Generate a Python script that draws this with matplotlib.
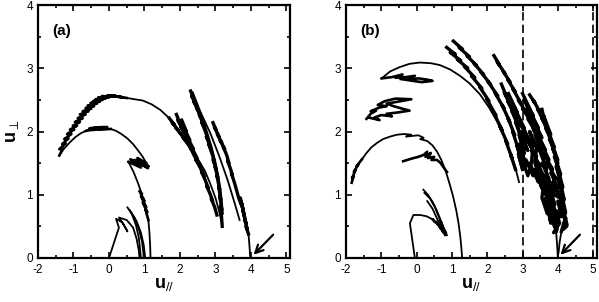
import matplotlib
matplotlib.use('Agg')
import matplotlib.pyplot as plt
from matplotlib.ticker import MultipleLocator

plt.rcParams['font.family'] = ['Liberation Sans', 'DejaVu Sans']
plt.rcParams['mathtext.fontset'] = 'custom'
plt.rcParams['mathtext.rm'] = 'Liberation Sans'
plt.rcParams['mathtext.it'] = 'Liberation Sans:italic'
plt.rcParams['mathtext.bf'] = 'Liberation Sans:bold'
plt.rcParams['axes.unicode_minus'] = False

# ---------------- data: trajectories (u_par, u_perp) ----------------
# Panel (a)
A_TOP_SAW = [(-1.40,1.62),(-1.30,1.73),(-1.40,1.72),(-1.22,1.81),(-1.32,1.80),(-1.14,1.89),(-1.26,1.88),
             (-1.06,1.96),(-1.18,1.96),(-0.98,2.03),(-1.10,2.03),(-0.90,2.09),(-1.02,2.09),(-0.82,2.15),
             (-0.96,2.15),(-0.74,2.21),(-0.88,2.21),(-0.66,2.27),(-0.82,2.27),(-0.58,2.32),(-0.74,2.32),
             (-0.50,2.36),(-0.66,2.37),(-0.42,2.40),(-0.60,2.41),(-0.34,2.44),(-0.52,2.45),(-0.26,2.47),
             (-0.45,2.48),(-0.18,2.50),(-0.38,2.51),(-0.10,2.52),(-0.30,2.54),(0.00,2.54),(-0.20,2.56),
             (0.10,2.55),(-0.05,2.57),(0.20,2.56),(0.05,2.57),(0.30,2.55),(0.15,2.56),(0.40,2.54),
             (0.25,2.55),(0.50,2.53)]
A_TOP = [(0.50,2.53),(0.72,2.51),(0.95,2.49),(1.20,2.43),(1.45,2.34),(1.70,2.21),(2.25,1.78),
         (2.40,1.65),(2.55,1.52),(2.70,1.38),(2.85,1.18),(3.00,0.95),(3.10,0.75),(3.18,0.55)]
A_TOP_JAG = [(1.70,2.21),(1.85,2.10),(1.78,2.14),(1.95,2.02),(1.88,2.06),(2.05,1.95),(1.98,1.99),
             (2.15,1.87),(2.08,1.91),(2.25,1.78)]
A_MID = [(-1.38,1.64),(-1.25,1.74),(-1.10,1.83),(-0.95,1.91),(-0.80,1.97),(-0.65,2.01),(0.05,2.04),
         (0.20,2.01),(0.35,1.96),(0.52,1.89),(0.68,1.80),(0.82,1.70),(0.95,1.60),(1.05,1.50)]
A_MID_JAG1 = [(-0.65,2.01),(-0.48,2.04),(-0.30,2.06),(-0.55,2.05),(-0.20,2.07),(-0.05,2.07),(-0.32,2.03),
              (0.05,2.04)]
A_MID_JAG2 = [(1.05,1.50),(0.80,1.58),(1.08,1.46),(0.72,1.55),(1.10,1.42),(0.85,1.50),(1.12,1.45),
              (0.60,1.56),(0.90,1.43),(0.55,1.52)]
A_MID_DOWN = [(0.55,1.52),(0.70,1.35),(0.82,1.18),(0.92,1.02)]
A_MID_JAG3 = [(0.92,1.02),(0.86,1.06),(1.00,0.90),(0.90,0.98),(1.05,0.80),(0.95,0.88),(1.08,0.72),
              (1.02,0.78),(1.11,0.60)]
A_MID_END = [(1.11,0.60),(1.14,0.40),(1.16,0.20),(1.17,0.00)]
A_LOW1 = [(0.00,0.00),(0.28,0.48),(0.20,0.62),(0.38,0.56),(0.52,0.42),(0.42,0.52),(0.28,0.64),
          (0.50,0.60),(0.68,0.48),(0.78,0.30),(0.84,0.12),(0.86,0.00)]
A_LOW2 = [(0.52,0.80),(0.64,0.70),(0.76,0.52),(0.84,0.32),(0.88,0.12),(0.90,0.00)]
A_LOW3 = [(0.58,0.76),(0.72,0.64),(0.84,0.46),(0.93,0.26),(0.97,0.08),(0.98,0.00)]
A_LOW4 = [(0.62,0.72),(0.78,0.58),(0.90,0.40),(0.98,0.20),(1.02,0.00)]
A_S1 = [(2.30,2.64),(2.40,2.50),(2.33,2.56),(2.46,2.42),(2.38,2.48),(2.53,2.32),(2.46,2.38),
        (2.60,2.22),(2.54,2.27),(2.67,2.10),(2.61,2.15),(2.73,1.98),(2.79,1.88),(2.74,1.92),
        (2.86,1.76),(2.81,1.80),(2.92,1.62),(2.97,1.52),(2.93,1.56),(3.02,1.40),(2.99,1.44),
        (3.07,1.26),(3.04,1.30),(3.12,1.08),(3.09,1.13),(3.15,0.92),(3.12,0.98),(3.18,0.76),
        (3.15,0.82),(3.19,0.50)]
A_S1B = [(2.36,2.62),(2.48,2.45),(2.58,2.30),(2.68,2.14),(2.78,1.96),(2.90,1.74),(3.00,1.52),
         (3.08,1.30),(3.14,1.10),(3.18,0.90),(3.21,0.70)]
A_S2 = [(1.90,2.27),(2.00,2.13),(1.94,2.18),(2.08,2.03),(2.02,2.08),(2.16,1.94),(2.25,1.83),
        (2.18,1.88),(2.32,1.72),(2.27,1.77),(2.40,1.62),(2.50,1.52),(2.44,1.56),(2.58,1.42),
        (2.66,1.32),(2.61,1.36),(2.72,1.22),(2.80,1.10),(2.75,1.14),(2.86,1.00),(2.92,0.90),
        (2.88,0.94),(2.98,0.80),(3.04,0.68)]
A_S2B = [(2.05,2.18),(2.18,2.00),(2.12,2.05),(2.28,1.86),(2.22,1.90),(2.38,1.72),(2.32,1.76),
         (2.48,1.58),(2.42,1.62),(2.58,1.46),(2.52,1.50),(2.68,1.30)]
A_S3 = [(2.93,2.14),(3.02,2.02),(2.97,2.07),(3.10,1.92),(3.05,1.96),(3.18,1.82),(3.13,1.86),
        (3.26,1.72),(3.22,1.76),(3.32,1.62),(3.38,1.50),(3.34,1.54),(3.43,1.40),(3.48,1.30),
        (3.45,1.34),(3.54,1.18),(3.60,1.06),(3.66,0.94),(3.72,0.85),(3.70,0.95),(3.78,0.75),
        (3.74,0.86),(3.82,0.65),(3.78,0.74),(3.86,0.55),(3.82,0.62),(3.90,0.45),(3.86,0.50),
        (3.93,0.38)]
A_S3_END = [(3.93,0.38),(3.95,0.25),(3.97,0.10),(3.98,0.00)]
A_THIN = [(2.40,2.50),(2.60,2.28),(2.85,1.98),(3.10,1.62),(3.35,1.22),(3.55,0.85),(3.68,0.60)]

# Panel (b)
B_TOP = [(-0.99,2.84),(-0.75,2.95),(-0.47,3.02),(-0.20,3.07),(0.09,3.09),(0.40,3.08),(0.66,3.05),
         (0.95,2.98),(1.23,2.88),(1.50,2.76),(1.79,2.59),(2.05,2.38),(2.30,2.14),(2.50,1.90),
         (2.66,1.66),(2.80,1.42),(2.90,1.20)]
B_SAW1 = [(-0.99,2.84),(-0.70,2.86),(-0.40,2.90),(-0.60,2.85),(-0.30,2.86),(-0.05,2.88),(-0.25,2.82),
          (0.05,2.84),(0.30,2.82),(0.45,2.80),(0.15,2.78),(-0.10,2.80),(-0.45,2.83)]
B_SAW2 = [(-1.42,2.20),(-1.30,2.28),(-1.15,2.33),(-1.30,2.32),(-1.05,2.38),(-0.85,2.40),(-1.10,2.42),
          (-0.90,2.48),(-0.60,2.52),(-0.15,2.51),(-0.55,2.47),(-0.85,2.44),(-0.65,2.40),(-0.40,2.36),
          (-0.20,2.33),(-0.55,2.30),(-0.85,2.28),(-0.70,2.24),(-1.00,2.26),(-1.20,2.22),(-1.05,2.18),
          (-1.35,2.22)]
B_LOWARC_JAG = [(-1.84,1.19),(-1.78,1.30),(-1.83,1.26),(-1.72,1.40),(-1.78,1.36),(-1.65,1.48),
                (-1.70,1.45),(-1.55,1.56)]
B_LOWARC = [(-1.55,1.56),(-1.42,1.66),(-1.28,1.75),(-1.12,1.82),(-0.95,1.88),(-0.75,1.92),(-0.55,1.95),
            (-0.35,1.96),(-0.15,1.95),(-0.30,1.92),(0.05,1.94),(0.20,1.90),(0.10,1.88),(0.30,1.85),
            (0.45,1.78),(0.58,1.68),(0.70,1.55),(0.82,1.38),(0.93,1.18),(1.03,0.98),(1.12,0.76),
            (1.19,0.54),(1.24,0.32),(1.27,0.14),(1.29,0.00)]
B_SUBARC = [(-0.38,1.53),(-0.15,1.57),(0.05,1.60),(0.20,1.63),(0.30,1.68),(0.25,1.60),(0.40,1.66),
            (0.32,1.58),(0.50,1.60),(0.42,1.55),(0.58,1.55),(0.68,1.50),(0.78,1.42),(0.86,1.36)]
B_LOW1 = [(0.19,1.08),(0.32,1.00),(0.46,0.88),(0.58,0.74),(0.68,0.60),(0.76,0.48),(0.70,0.56),
          (0.82,0.40),(0.76,0.46),(0.86,0.36)]
B_LOW2 = [(0.22,1.03),(0.38,0.94),(0.52,0.80),(0.62,0.66),(0.72,0.52),(0.66,0.60),(0.78,0.44),
          (0.72,0.52),(0.84,0.40)]
B_LOW3 = [(0.30,0.90),(0.45,0.78),(0.58,0.62),(0.68,0.50),(0.62,0.56),(0.75,0.42),(0.70,0.48),(0.80,0.36)]
B_BOT = [(-0.05,0.00),(-0.19,0.55),(-0.09,0.68),(0.10,0.68),(0.28,0.66),(0.42,0.62),(0.52,0.56),
         (0.46,0.62),(0.60,0.52),(0.55,0.58),(0.68,0.46),(0.62,0.52),(0.75,0.40),(0.70,0.46),(0.82,0.36)]
B_R1 = [(0.85,3.33),(1.10,3.22),(0.95,3.25),(1.25,3.12),(1.15,3.14),(1.45,3.00),(1.35,3.03),
        (1.65,2.85),(1.55,2.88),(1.85,2.68),(1.78,2.71),(2.05,2.48),(1.98,2.52),(2.25,2.25),
        (2.18,2.30),(2.42,2.02),(2.36,2.08),(2.58,1.80),(2.52,1.86),(2.70,1.58),(2.66,1.64),(2.80,1.40)]
B_R2 = [(1.04,3.43),(1.30,3.30),(1.20,3.33),(1.50,3.18),(1.42,3.20),(1.70,3.04),(1.62,3.08),
        (1.90,2.90),(1.82,2.94),(2.10,2.74),(2.02,2.79),(2.30,2.56),(2.22,2.61),(2.48,2.36),
        (2.42,2.42),(2.64,2.15),(2.58,2.22),(2.78,1.94),(2.72,2.00),(2.88,1.72),(2.84,1.78),
        (2.95,1.55),(2.90,1.60),(3.00,1.40)]
B_R3 = [(2.19,3.20),(2.35,3.05),(2.28,3.10),(2.50,2.92),(2.45,2.95),(2.65,2.78),(2.58,2.82),
        (2.80,2.62),(2.72,2.68),(2.95,2.45),(2.88,2.50),(3.10,2.30),(3.00,2.36),(3.25,2.15),
        (3.15,2.20),(3.38,1.98),(3.30,2.04),(3.50,1.80),(3.42,1.86),(3.60,1.60),(3.52,1.68),
        (3.68,1.40),(3.62,1.46),(3.76,1.20),(3.70,1.26),(3.82,1.00),(3.76,1.05),(3.88,0.80),
        (3.82,0.86),(3.92,0.60),(3.86,0.66),(3.95,0.42)]
B_R3_END = [(3.95,0.42),(3.98,0.20),(4.00,0.00)]
B_R4 = [(3.20,2.58),(3.35,2.45),(3.30,2.50),(3.48,2.32),(3.42,2.36),(3.60,2.16),(3.54,2.22),
        (3.72,2.00),(3.66,2.05),(3.82,1.84),(3.76,1.88),(3.92,1.66),(3.86,1.72),(4.00,1.50),
        (3.95,1.55),(4.08,1.32),(4.02,1.38),(4.14,1.12),(4.08,1.18),(4.18,0.92),(4.12,0.98),
        (4.22,0.72),(4.16,0.78),(4.26,0.52),(4.18,0.58),(4.10,0.42)]
B_R4_END = [(4.10,0.42),(4.05,0.25),(4.02,0.08)]
B_CORE1 = [(2.75,2.40),(3.05,2.05),(2.90,2.20),(3.20,1.85),(2.95,2.00),(3.15,1.70),(2.90,1.80),
           (3.05,1.55),(2.88,1.65),(3.00,1.40),(3.10,1.55),(3.30,1.30),(3.20,1.50),(3.45,1.20),
           (3.35,1.40),(3.55,1.10),(3.45,1.30),(3.65,1.00),(3.55,1.25),(3.75,0.95),(3.62,1.10),
           (3.80,0.80),(3.70,0.95),(3.90,0.70),(3.78,0.80),(3.95,0.55),(3.82,0.65),(3.98,0.45),
           (3.88,0.40),(4.05,0.55),(3.95,0.75),(4.10,0.65),(4.00,0.90),(4.15,0.80),(4.02,1.05),(4.12,0.95)]
B_CORE2 = [(3.00,2.60),(3.30,2.25),(3.15,2.40),(3.45,2.05),(3.30,2.20),(3.55,1.90),(3.40,2.00),
           (3.65,1.70),(3.50,1.85),(3.75,1.55),(3.60,1.65),(3.85,1.40),(3.70,1.50),(3.95,1.25),
           (3.80,1.35),(4.00,1.10),(3.85,1.20),(4.05,0.95),(3.90,1.00),(3.80,1.15),(3.95,0.60)]
B_CORE3 = [(2.60,2.60),(2.85,2.30),(2.70,2.45),(2.95,2.15),(2.80,2.25),(3.10,1.95),(3.25,1.75),
           (3.10,1.90),(3.40,1.60),(3.25,1.70),(3.50,1.45),(3.35,1.55),(3.60,1.30),(3.48,1.35),
           (3.70,1.15),(3.58,1.20),(3.78,1.00),(3.66,1.05),(3.85,0.85),(3.75,0.88),(3.90,0.60)]
B_CORE4 = [(2.85,2.10),(3.00,1.80),(2.92,1.95),(3.05,1.65),(2.95,1.75),(3.10,1.45),(3.00,1.55),
           (3.15,1.30),(3.25,1.50),(3.30,1.80),(3.20,2.00),(3.40,1.75),(3.35,1.50),(3.50,1.25),
           (3.45,1.50),(3.60,1.20),(3.55,0.95),(3.70,0.70),(3.65,0.95),(3.80,0.55),(3.75,0.75),(3.90,0.50)]
B_CORE5 = [(3.55,2.35),(3.65,2.10),(3.60,2.25),(3.80,1.95),(3.70,2.05),(3.90,1.75),(3.80,1.85),
           (4.00,1.55),(3.90,1.60),(4.05,1.35),(3.95,1.45),(4.10,1.15),(4.00,1.25),(4.15,0.95),
           (4.05,1.00),(4.20,0.70),(4.10,0.80),(4.25,0.50),(4.15,0.45),(4.22,0.62)]
B_CORE6 = [(3.05,2.50),(3.20,2.30),(3.10,2.35),(3.35,2.10),(3.25,2.15),(3.45,1.90),(3.35,1.95),
           (3.55,1.65),(3.45,1.75),(3.65,1.45),(3.55,1.50),(3.75,1.25),(3.65,1.30),(3.85,1.05),
           (3.75,1.10),(3.92,0.85),(3.82,0.90),(3.95,0.65)]
B_CORE7 = [(2.40,2.75),(2.55,2.55),(2.48,2.62),(2.65,2.42),(2.58,2.48),(2.78,2.25),(2.70,2.32),
           (2.88,2.08),(2.80,2.15),(2.96,1.90),(2.90,1.95),(3.02,1.70)]

ARROW_TAIL = (4.68, 0.40)
ARROW_HEAD = (4.02, 0.02)
DASHED_X = [3, 5]

thin_a = [A_TOP, A_MID, A_MID_DOWN, A_MID_END, A_LOW1, A_LOW2, A_LOW3, A_LOW4, A_S1B, A_S3_END, A_THIN]
saw_a = [A_TOP_SAW, A_MID_JAG1, A_MID_JAG2, A_MID_JAG3]
band_a = [A_TOP_JAG, A_S1, A_S2, A_S2B, A_S3]
thin_b = [B_TOP, B_LOWARC, B_LOW1, B_LOW2, B_LOW3, B_BOT, B_R3_END, B_R4_END]
saw_b = [B_SAW1, B_SAW2, B_LOWARC_JAG, B_SUBARC]
band_b = [B_R1, B_R2, B_R3, B_R4, B_CORE1, B_CORE2, B_CORE3, B_CORE4, B_CORE5, B_CORE6, B_CORE7]

# ---------------- figure ----------------
fig = plt.figure(figsize=(5.99, 3.02), dpi=100)
ax_a = fig.add_axes([38/599, 44/302, 252/599, 253/302])
ax_b = fig.add_axes([346/599, 44/302, 250.7/599, 253/302])


def style(ax):
    ax.set_xlim(-2, 5.1)
    ax.set_ylim(0, 4)
    ax.xaxis.set_major_locator(MultipleLocator(1))
    ax.xaxis.set_minor_locator(MultipleLocator(0.5))
    ax.yaxis.set_major_locator(MultipleLocator(1))
    ax.yaxis.set_minor_locator(MultipleLocator(0.5))
    ax.tick_params(which='both', direction='in', top=True, right=True, width=1.2)
    ax.tick_params(which='major', length=4.5, labelsize=8.5)
    ax.tick_params(axis='x', which='major', pad=4)
    ax.tick_params(axis='y', which='major', pad=3.5)
    ax.tick_params(which='minor', length=2.5)
    for s in ax.spines.values():
        s.set_linewidth(1.6)


for ax, thin, saw, band in ((ax_a, thin_a, saw_a, band_a), (ax_b, thin_b, saw_b, band_b)):
    style(ax)
    for group, lw in ((thin, 1.3), (saw, 1.9), (band, 2.4)):
        for st in group:
            xs, ys = zip(*st)
            ax.plot(xs, ys, color='black', lw=lw)
    ax.annotate('', xy=ARROW_HEAD, xytext=ARROW_TAIL,
                arrowprops=dict(arrowstyle='->', lw=1.6, color='black', mutation_scale=14),
                annotation_clip=False)
    ax.set_xlabel(r'$\mathbf{u}_{//}$', fontsize=13, labelpad=0)

for xv in DASHED_X:
    ax_b.axvline(xv, color='black', lw=1.2, ls=(0, (5, 2.5)))

ax_a.set_ylabel(r'$\mathbf{u}_{\perp}$', fontsize=13, labelpad=4)
ax_a.text(-1.6, 3.59, '(a)', fontsize=11, fontweight='bold', va='center', ha='left')
ax_b.text(-1.6, 3.59, '(b)', fontsize=11, fontweight='bold', va='center', ha='left')

fig.savefig('out.png', dpi=100)
